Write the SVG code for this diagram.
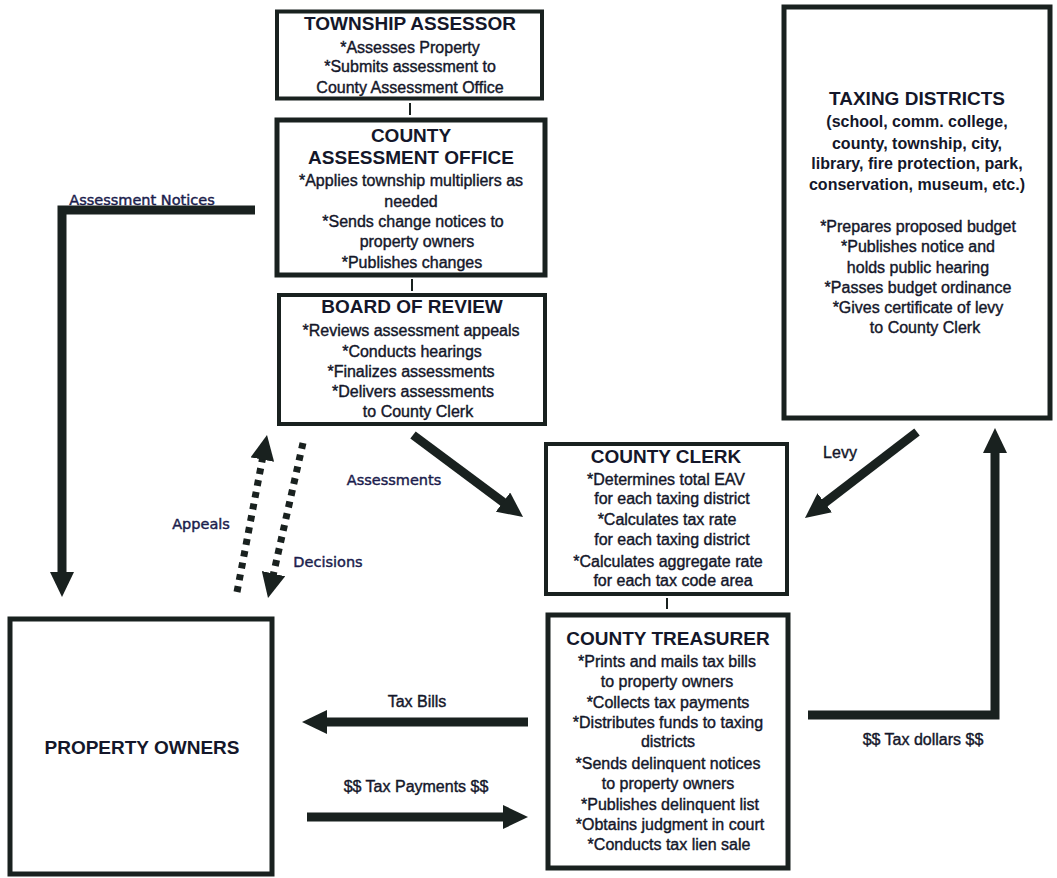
<svg xmlns="http://www.w3.org/2000/svg" width="1057" height="878" viewBox="0 0 1057 878">
<style>
.box{fill:#ffffff;stroke:#19211f;stroke-width:4}
.thick{stroke-width:5}
text{font-family:"Liberation Sans",Arial,sans-serif;fill:#14172a;text-anchor:middle}
.title{font-size:19px;font-weight:bold}
.b{font-size:16px;stroke:#14172a;stroke-width:0.4}
.pb{font-size:16px;font-weight:bold}
.lbl{font-size:16px;stroke:#14172a;stroke-width:0.4}
.tl{font-family:"DejaVu Sans",Verdana,sans-serif;font-size:14.5px;fill:#1b1d4d;stroke:#1b1d4d;stroke-width:0.45}
.arr{fill:none;stroke:#19211f;stroke-width:9;marker-end:url(#ah)}
.dot{fill:none;stroke:#19211f;stroke-width:7;stroke-dasharray:6 6;marker-end:url(#ah)}
.tick{stroke:#19211f;stroke-width:2}
</style>
<defs>
<marker id="ah" markerUnits="userSpaceOnUse" viewBox="0 0 25 24" markerWidth="25" markerHeight="24" refX="1" refY="12" orient="auto">
<path d="M0,0 L25,12 L0,24 Z" fill="#19211f"/>
</marker>
</defs>
<rect width="1057" height="878" fill="#ffffff"/>

<g id="township-assessor">
<rect class="box" x="277" y="11.5" width="265" height="87"/>
<text class="title" x="410" y="30">TOWNSHIP ASSESSOR</text>
<text class="b" x="410" y="52.5">*Assesses Property</text>
<text class="b" x="410" y="72">*Submits assessment to</text>
<text class="b" x="410" y="92.5">County Assessment Office</text>
</g>

<g id="county-assessment-office">
<rect class="box thick" x="277" y="120" width="268" height="155"/>
<text class="title" x="411" y="141.5">COUNTY</text>
<text class="title" x="411" y="164">ASSESSMENT OFFICE</text>
<text class="b" x="411" y="186">*Applies township multipliers as</text>
<text class="b" x="411" y="206.5">needed</text>
<text class="b" x="413" y="227">*Sends change notices to</text>
<text class="b" x="417" y="247">property owners</text>
<text class="b" x="412" y="268">*Publishes changes</text>
</g>

<g id="board-of-review">
<rect class="box" x="279" y="295" width="266" height="129"/>
<text class="title" x="412" y="313">BOARD OF REVIEW</text>
<text class="b" x="411" y="335.5">*Reviews assessment appeals</text>
<text class="b" x="412" y="356.5">*Conducts hearings</text>
<text class="b" x="411" y="376.5">*Finalizes assessments</text>
<text class="b" x="413" y="396.5">*Delivers assessments</text>
<text class="b" x="418" y="417">to County Clerk</text>
</g>

<g id="taxing-districts">
<rect class="box thick" x="784" y="7" width="266" height="411"/>
<text class="title" x="917" y="105">TAXING DISTRICTS</text>
<text class="pb" x="917" y="127">(school, comm. college,</text>
<text class="pb" x="917" y="148.5">county, township, city,</text>
<text class="pb" x="917" y="168.5">library, fire protection, park,</text>
<text class="pb" x="917" y="190">conservation, museum, etc.)</text>
<text class="b" x="918" y="231.5">*Prepares proposed budget</text>
<text class="b" x="918" y="251.5">*Publishes notice and</text>
<text class="b" x="918" y="272.5">holds public hearing</text>
<text class="b" x="918" y="293">*Passes budget ordinance</text>
<text class="b" x="918" y="313">*Gives certificate of levy</text>
<text class="b" x="925" y="333">to County Clerk</text>
</g>

<g id="county-clerk">
<rect class="box" x="546" y="444" width="241" height="150"/>
<text class="title" x="666" y="463">COUNTY CLERK</text>
<text class="b" x="666" y="485">*Determines total EAV</text>
<text class="b" x="672" y="503.5">for each taxing district</text>
<text class="b" x="667" y="525">*Calculates tax rate</text>
<text class="b" x="672" y="545">for each taxing district</text>
<text class="b" x="668" y="566.5">*Calculates aggregate rate</text>
<text class="b" x="673" y="586">for each tax code area</text>
</g>

<g id="county-treasurer">
<rect class="box thick" x="548" y="615" width="240" height="253"/>
<text class="title" x="668" y="645">COUNTY TREASURER</text>
<text class="b" x="667" y="667">*Prints and mails tax bills</text>
<text class="b" x="667" y="687">to property owners</text>
<text class="b" x="668" y="708">*Collects tax payments</text>
<text class="b" x="668" y="728">*Distributes funds to taxing</text>
<text class="b" x="668" y="747">districts</text>
<text class="b" x="668" y="769">*Sends delinquent notices</text>
<text class="b" x="668" y="788.5">to property owners</text>
<text class="b" x="670" y="810">*Publishes delinquent list</text>
<text class="b" x="670" y="830">*Obtains judgment in court</text>
<text class="b" x="669" y="850">*Conducts tax lien sale</text>
</g>

<g id="property-owners">
<rect class="box thick" x="10" y="619" width="262" height="255"/>
<text class="title" x="142" y="754">PROPERTY OWNERS</text>
</g>

<g id="connectors">
<line class="tick" x1="410" y1="103" x2="410" y2="115"/>
<line class="tick" x1="412" y1="279" x2="412" y2="291"/>
<line class="tick" x1="667" y1="598" x2="667" y2="609"/>
<path class="arr" d="M255,210 H62 V573"/>
<path class="dot" d="M237,592 L262.5,458.6"/>
<path class="dot" d="M303,443 L273.3,574.6"/>
<path class="arr" d="M413,435 L503.8,502.7"/>
<path class="arr" d="M917,432 L824,503.4"/>
<path class="arr" d="M528,722 H326"/>
<path class="arr" d="M307,817 H504"/>
<path class="arr" d="M808,715 H995 V452"/>
<text class="tl" x="142" y="205">Assessment Notices</text>
<text class="tl" x="201" y="529">Appeals</text>
<text class="tl" x="328" y="567">Decisions</text>
<text class="tl" x="394" y="485">Assessments</text>
<text class="lbl" x="840" y="458">Levy</text>
<text class="lbl" x="417" y="707">Tax Bills</text>
<text class="lbl" x="416" y="792">$$ Tax Payments $$</text>
<text class="lbl" x="923" y="745">$$ Tax dollars $$</text>
</g>
</svg>
